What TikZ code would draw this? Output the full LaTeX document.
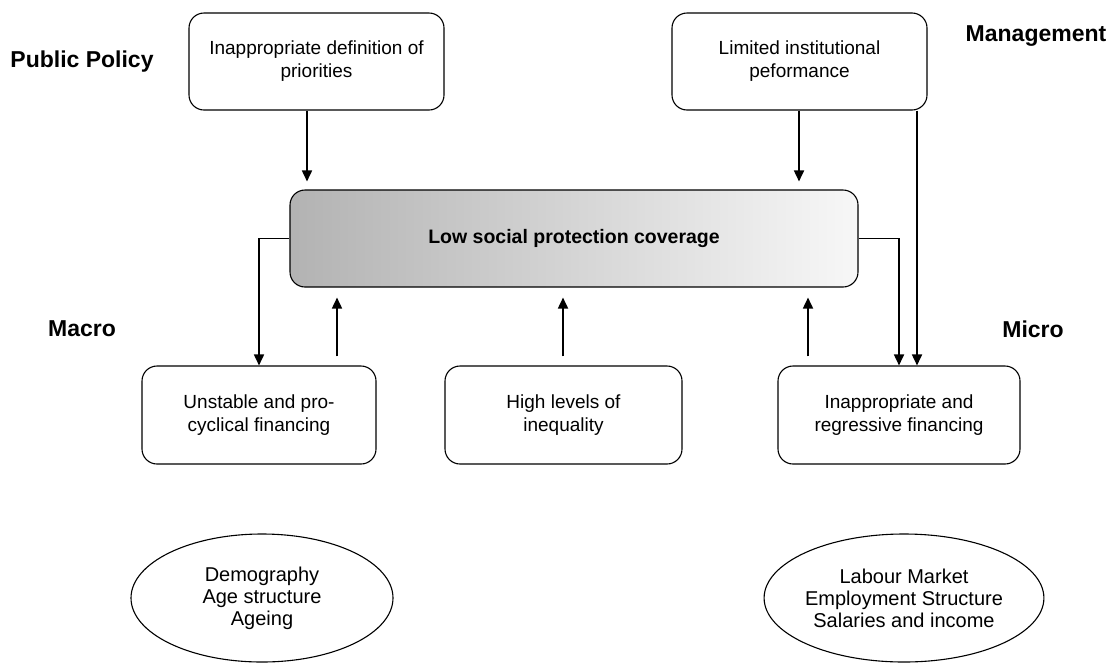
\documentclass[tikz,border=0pt]{standalone}
\usepackage{fontspec}
\setmainfont{Liberation Sans}
\usetikzlibrary{shapes.geometric,arrows.meta}

\begin{document}
\begin{tikzpicture}[x=1pt,y=-1pt,
    box/.style={draw,rounded corners=15pt,line width=1.1pt,align=center,inner sep=0pt,font=\fontsize{19}{23}\selectfont},
    core/.style={box,left color=black!30,right color=black!3,font=\fontsize{19.5}{23}\selectfont\bfseries},
    oval/.style={draw,ellipse,line width=1.1pt,align=center,inner sep=0pt,minimum width=262pt,minimum height=128pt,font=\fontsize{20}{22}\selectfont},
    tag/.style={font=\fontsize{23}{27}\selectfont\bfseries},
    arr/.style={line width=1.7pt,-{Triangle[length=11pt,width=10pt]}}]
  \useasboundingbox (0,0) rectangle (1110,670);

  \node[box, minimum width=255pt, minimum height=97pt] (1) at (316.5, 61.5) {Inappropriate definition of\\ priorities};
  \node[box, minimum width=255pt, minimum height=97pt] (2) at (799.5, 61.5) {Limited institutional\\ peformance};
  \node[core, minimum width=568pt, minimum height=97pt] (0) at (574, 238.5) {Low social protection coverage};
  \node[box, minimum width=234pt, minimum height=98pt] (3) at (259, 415) {Unstable and pro-\\ cyclical financing};
  \node[box, minimum width=237pt, minimum height=98pt] (4) at (563.5, 415) {High levels of\\ inequality};
  \node[box, minimum width=242pt, minimum height=98pt] (5) at (899, 415) {Inappropriate and\\ regressive financing};

  \node[oval] (a) at (262, 598) {Demography\\ Age structure\\ Ageing};
  \node[oval] (b) at (904, 598) {Labour Market\\ Employment Structure\\ Salaries and income};

  \node[tag] (p) at (82, 62) {Public Policy};
  \node[tag] (m) at (1036, 36) {Management};
  \node[tag] (ma) at (82, 329) {Macro};
  \node[tag] (mi) at (1033, 329) {Micro};

  \coordinate (x1) at (307, 0);
  \coordinate (x2) at (799, 0);
  \coordinate (x3) at (917, 0);
  \coordinate (u1) at (337, 0);
  \coordinate (u2) at (563, 0);
  \coordinate (u3) at (808, 0);

  \draw[arr, shorten >=8pt] (1.south -| x1) -- (0.north -| x1);
  \draw[arr, shorten >=8pt] (2.south -| x2) -- (0.north -| x2);
  \draw[arr] (2.south -| x3) -- (5.north -| x3);
  \draw[arr] (0.west) -| (3.north);
  \draw[arr] (0.east) -| (5.north);

  \draw[arr, shorten <=9pt, shorten >=10pt] (3.north -| u1) -- (0.south -| u1);
  \draw[arr, shorten <=9pt, shorten >=10pt] (4.north -| u2) -- (0.south -| u2);
  \draw[arr, shorten <=9pt, shorten >=10pt] (5.north -| u3) -- (0.south -| u3);
\end{tikzpicture}
\end{document}
